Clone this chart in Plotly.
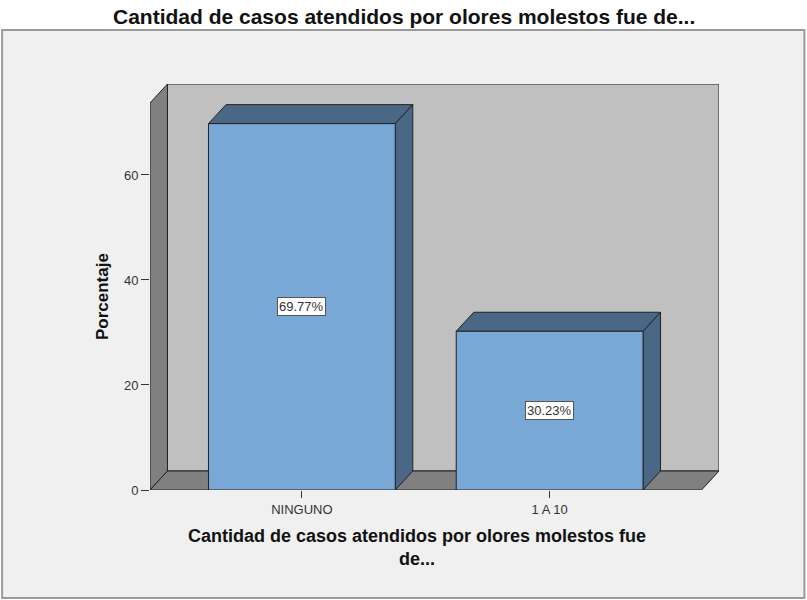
import plotly.graph_objects as go

TITLE = "Cantidad de casos atendidos por olores molestos fue de..."
X_TITLE = "Cantidad de casos atendidos por olores molestos fue<br>de..."
Y_TITLE = "Porcentaje"
CATEGORIES = ["NINGUNO", "1 A 10"]
PERCENTS = [69.77, 30.23]
Y_TICKS = [0, 20, 40, 60]

FRONT = "#7aa8d6"
DARK = "#4a6886"
WALL = "#c0c0c0"
FLOOR = "#808080"
EDGE = "#222222"
FONT = "Liberation Sans, Arial, sans-serif"

# fake 3d box, in axis units
X_LO, X_HI = -0.613, 1.613
Y_TOP = 73.7
DX, DY = 0.0706, 3.62
BAR_W = 0.754

W, H = 807, 600
L, R, T, B = 150, 87.5, 84, 110


def poly(pts, fill, layer="below"):
    path = "M " + " L ".join(f"{x},{y}" for x, y in pts) + " Z"
    return dict(type="path", path=path, xref="x", yref="y", fillcolor=fill,
                line=dict(color=EDGE, width=1), layer=layer)


def paper_x(px):
    return (px - L) / (W - L - R)


def paper_y(py):
    return (H - B - py) / (H - T - B)


def label(text, px, py, size, angle=0):
    return dict(x=paper_x(px), y=paper_y(py), xref="paper", yref="paper",
                text=f"<b>{text}</b>", showarrow=False, textangle=angle,
                xanchor="center", yanchor="middle",
                font=dict(size=size, color="#111111", family=FONT))


xs = list(range(len(CATEGORIES)))

shapes = [
    dict(type="rect", xref="paper", yref="paper", x0=paper_x(2), x1=paper_x(805),
         y0=paper_y(598), y1=paper_y(30), fillcolor="#f0f0f0",
         line=dict(color="#9a9a9a", width=2), layer="below"),
    poly([(X_LO + DX, DY), (X_HI + DX, DY), (X_HI + DX, Y_TOP + DY), (X_LO + DX, Y_TOP + DY)], WALL),
    poly([(X_LO, 0), (X_LO, Y_TOP), (X_LO + DX, Y_TOP + DY), (X_LO + DX, DY)], FLOOR),
    poly([(X_LO, 0), (X_HI, 0), (X_HI + DX, DY), (X_LO + DX, DY)], FLOOR),
]
for x, v in zip(xs, PERCENTS):
    a, b = x - BAR_W / 2, x + BAR_W / 2
    shapes.append(poly([(a, v), (b, v), (b + DX, v + DY), (a + DX, v + DY)], DARK))
    shapes.append(poly([(b, 0), (b + DX, DY), (b + DX, v + DY), (b, v)], DARK))

fig = go.Figure(
    go.Bar(
        x=xs,
        y=PERCENTS,
        width=BAR_W,
        marker=dict(color=FRONT, line=dict(color=EDGE, width=1)),
        hoverinfo="skip",
    )
)

annotations = [
    dict(x=x, y=v / 2, xref="x", yref="y", text=f"{v:.2f}%", showarrow=False,
         bgcolor="white", bordercolor="#555555", borderwidth=1, borderpad=1,
         font=dict(size=13, color="#333333", family=FONT))
    for x, v in zip(xs, PERCENTS)
]
annotations += [
    label(TITLE, 404, 16, 21),
    label(X_TITLE, 417, 547, 18),
    label(Y_TITLE, 102, 297, 17, angle=-90),
]

fig.update_layout(
    width=W,
    height=H,
    margin=dict(l=L, r=R, t=T, b=B),
    paper_bgcolor="white",
    plot_bgcolor="rgba(0,0,0,0)",
    showlegend=False,
    shapes=shapes,
    annotations=annotations,
    font=dict(family=FONT, color="#333333"),
)
fig.update_xaxes(
    range=[X_LO, X_HI + DX], tickvals=xs, ticktext=CATEGORIES, showgrid=False,
    zeroline=False, showline=False, ticks="outside", ticklen=7, tickcolor="#333333",
    tickfont=dict(size=13, color="#333333"), fixedrange=True,
)
fig.update_yaxes(
    range=[0, Y_TOP + DY], tickvals=Y_TICKS, showgrid=False, zeroline=False,
    showline=False, ticks="outside", ticklen=8, tickcolor="#333333",
    tickfont=dict(size=13, color="#333333"), fixedrange=True,
)

# page body has a default 8px margin; drop it so the figure sits at 0,0
fig.write_html(
    "out.html",
    config={"displayModeBar": False},
    post_script="document.body.style.margin='0';",
)
